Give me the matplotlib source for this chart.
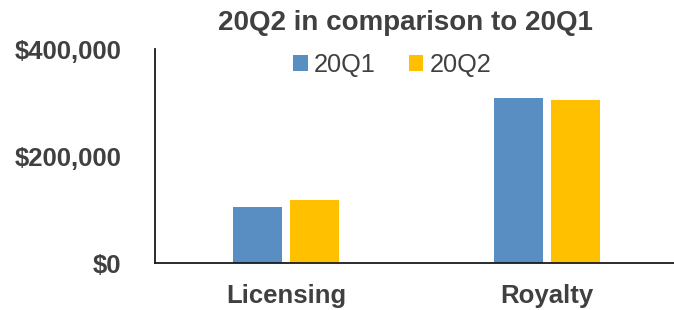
import matplotlib.pyplot as plt
import numpy as np

categories = ['Licensing', 'Royalty']
q1_values = [105000, 308000]
q2_values = [117000, 304000]
series_names = ['20Q1', '20Q2']
y_ticks = [0, 200000, 400000]
y_tick_labels = ['$0', '$200,000', '$400,000']


def build_graph():
    plt.rcParams['font.family'] = ['Liberation Sans', 'DejaVu Sans']
    text_color = '#404040'

    fig = plt.figure(figsize=(6.74, 3.10), dpi=100)
    ax = fig.add_axes([0.23, 0.1516, 0.77, 0.6903])

    x = np.arange(len(categories))
    width = 0.188
    offset = 0.109
    ax.bar(x - offset, q1_values, width, color='#598EC2', label=series_names[0])
    ax.bar(x + offset, q2_values, width, color='#FFC000', label=series_names[1])

    ax.set_xlim(-0.502, 1.487)
    ax.set_ylim(0, 400000)
    ax.set_xticks(x)
    ax.set_xticklabels(categories, fontsize=18.5, fontweight='bold', color=text_color)
    ax.set_yticks(y_ticks)
    ax.set_yticklabels(y_tick_labels, fontsize=18.5, fontweight='bold', color=text_color)
    ax.tick_params(axis='both', length=0)
    ax.tick_params(axis='y', pad=24)
    ax.tick_params(axis='x', pad=15)

    for side in ['top', 'right']:
        ax.spines[side].set_visible(False)
    for side in ['left', 'bottom']:
        ax.spines[side].set_color('#1a1a1a')
        ax.spines[side].set_linewidth(1.3)

    fig.text(0.601, 0.925, '20Q2 in comparison to 20Q1', ha='center', va='center',
             fontsize=20, fontweight='bold', color=text_color)

    fig.legend(loc='center', bbox_to_anchor=(0.582, 0.79), ncol=2, frameon=False,
               fontsize=18.3, handlelength=0.56, handleheight=0.56, handletextpad=0.25,
               columnspacing=1.3, labelcolor=text_color, borderpad=0)

    fig.savefig('out.png', dpi=100)


def main():
    build_graph()


if __name__ == "__main__":
    main()
